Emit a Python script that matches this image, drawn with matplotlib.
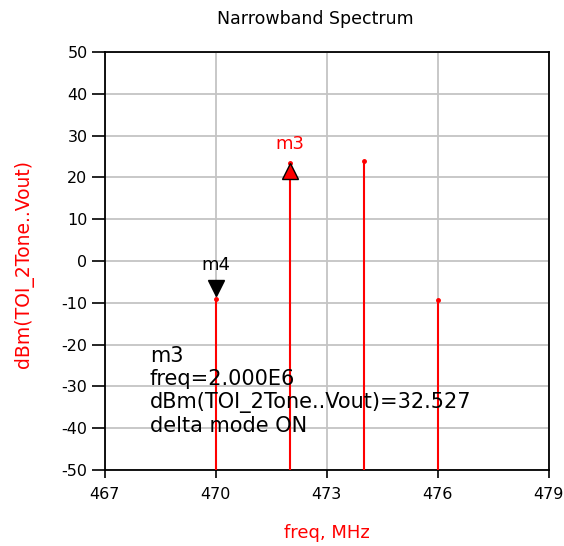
import numpy as np
import matplotlib
matplotlib.use('Agg')
import matplotlib.pyplot as plt
import matplotlib.transforms as mtransforms

# spectrum tones (MHz, dBm)
freq_mhz = [470, 472, 474, 476]
power_dbm = [-9.0, 23.5, 24.0, -9.4]

x_ticks = [467, 470, 473, 476, 479]
y_ticks = [-50, -40, -30, -20, -10, 0, 10, 20, 30, 40, 50]

# markers: name, index of tone
marker_names = ['m3', 'm4']
marker_idx = [1, 0]

readout_lines = ['m3', 'freq=2.000E6', 'dBm(TOI_2Tone..Vout)=32.527', 'delta mode ON']

plt.rcParams['font.family'] = ['DejaVu Sans']
plt.rcParams['axes.unicode_minus'] = False

fig = plt.figure(figsize=(5.64, 5.46), dpi=100)
ax = fig.add_axes([0.186, 0.139, 0.787, 0.766])

ax.set_xlim(467, 479)
ax.set_ylim(-50, 50)
ax.set_xticks(x_ticks)
ax.set_yticks(y_ticks)
ax.tick_params(axis='both', direction='out', labelsize=11.5, width=1.2, colors='black')
ax.tick_params(axis='y', length=9.5, pad=3)
ax.tick_params(axis='x', length=6, pad=6)
ax.grid(True, color='#c4c4c4', linewidth=1.3)
ax.set_axisbelow(True)
for sp in ax.spines.values():
    sp.set_linewidth(1.3)
    sp.set_color('black')

# tones
ax.vlines(freq_mhz, -50, power_dbm, colors='red', linewidth=1.5, zorder=3)
ax.plot(freq_mhz, power_dbm, linestyle='none', marker='o', markersize=2.5,
        color='red', zorder=4)

ms = 12
# m3 (triangle up, tip at the point)
f3 = freq_mhz[marker_idx[0]]
p3 = power_dbm[marker_idx[0]]
off_dn = mtransforms.offset_copy(ax.transData, fig=fig, x=0, y=-ms / 2, units='points')
ax.plot([f3], [p3], marker='^', markersize=ms, markerfacecolor='red',
        markeredgecolor='black', markeredgewidth=1.0, linestyle='none',
        transform=off_dn, zorder=5)
ax.annotate(marker_names[0], (f3, p3), xytext=(0, 7), textcoords='offset points',
            ha='center', va='bottom', color='red', fontsize=13)

# m4 (triangle down, tip just above the point)
f4 = freq_mhz[marker_idx[1]]
p4 = power_dbm[marker_idx[1]]
off_up = mtransforms.offset_copy(ax.transData, fig=fig, x=0, y=ms / 2 + 2, units='points')
ax.plot([f4], [p4], marker='v', markersize=ms, markerfacecolor='black',
        markeredgecolor='black', linestyle='none', transform=off_up, zorder=5)
ax.annotate(marker_names[1], (f4, p4), xytext=(0, 18), textcoords='offset points',
            ha='center', va='bottom', color='black', fontsize=13)

# marker readout
ax.text(0.101, 0.297, '\n'.join(readout_lines), transform=ax.transAxes,
        ha='left', va='top', fontsize=15, linespacing=1.2, color='black', zorder=6)

fig.text(315 / 564, 1 - 19 / 546, 'Narrowband Spectrum', ha='center', va='center',
         fontsize=12.5)
ax.set_xlabel('freq, MHz', color='red', fontsize=13, va='top')
ax.xaxis.set_label_coords(0.5, -0.13)
ax.set_ylabel('dBm(TOI_2Tone..Vout)', color='red', fontsize=13.5)
ax.yaxis.set_label_coords(-0.16, 0.493)

fig.savefig('out.png', dpi=100)
